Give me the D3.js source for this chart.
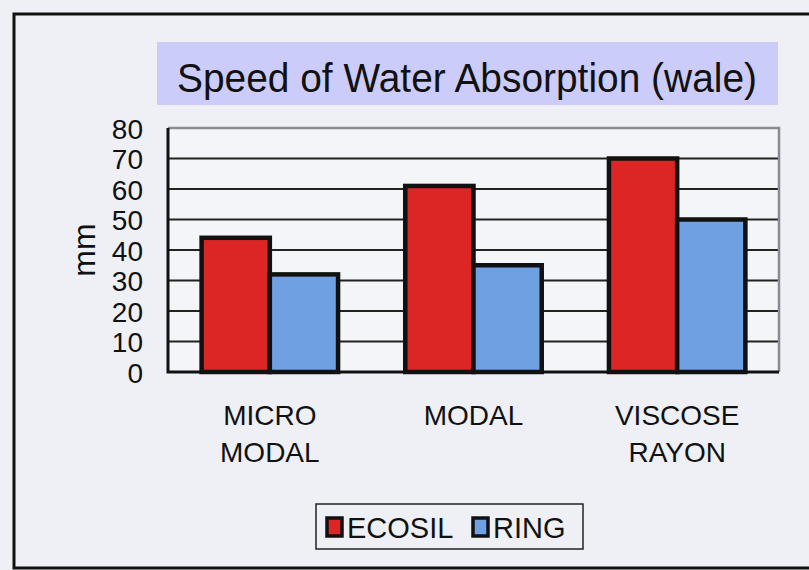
<!DOCTYPE html>
<html>
<head>
<meta charset="utf-8">
<script src="https://cdn.jsdelivr.net/npm/d3@7"></script>
<style>
	body { margin: 0; background: #eef0f6; }
	svg { display: block; }
	text { font-family: "Liberation Sans", Arial, sans-serif; fill: #111; }
</style>
</head>
<body>
<script>
// データ
var categories = [["MICRO", "MODAL"], ["MODAL"], ["VISCOSE", "RAYON"]];
var series_names = ["ECOSIL", "RING"];
var ecosil = [44, 61, 70];
var ring = [32, 35, 50];
var y_ticks = [0, 10, 20, 30, 40, 50, 60, 70, 80];
var colors = ["#dc2626", "#6fa0e2"];

var W = 809, H = 570;
var svg = d3.select("body").append("svg")
	.attr("width", W)
	.attr("height", H);

// 外枠(右側は画像外)
svg.append("path")
	.attr("d", "M" + W + ",14 H14 V568 H" + W)
	.attr("fill", "none")
	.attr("stroke", "#111")
	.attr("stroke-width", 3);

// タイトル
svg.append("rect")
	.attr("x", 157).attr("y", 42)
	.attr("width", 621).attr("height", 63)
	.attr("fill", "#ccccfb");
svg.append("text")
	.attr("x", 467).attr("y", 92)
	.attr("text-anchor", "middle")
	.attr("textLength", 580)
	.attr("lengthAdjust", "spacingAndGlyphs")
	.style("font-size", "41px")
	.text("Speed of Water Absorption (wale)");

// プロット領域
var plot = {left: 168, right: 779, top: 128, bottom: 372};
var x0 = d3.scaleBand()
	.domain(d3.range(categories.length))
	.range([plot.left, plot.right])
	.paddingInner(0.33)
	.paddingOuter(0.165);
var x1 = d3.scaleBand()
	.domain(series_names)
	.range([0, x0.bandwidth()]);
var y = d3.scaleLinear()
	.domain([0, 80])
	.range([plot.bottom, plot.top]);

svg.append("rect")
	.attr("x", plot.left).attr("y", plot.top)
	.attr("width", plot.right - plot.left).attr("height", plot.bottom - plot.top)
	.attr("fill", "#f4f5f9");

// グリッド線
svg.append("g")
	.selectAll("line")
	.data(y_ticks.filter(function(d){ return d > 0 && d < 80; }))
	.enter().append("line")
	.attr("x1", plot.left).attr("x2", plot.right)
	.attr("y1", function(d){ return y(d); })
	.attr("y2", function(d){ return y(d); })
	.attr("stroke", "#222")
	.attr("stroke-width", 2);

// 枠(上・右は灰色)
svg.append("path")
	.attr("d", "M" + plot.left + "," + plot.top + " H" + plot.right + " V" + plot.bottom)
	.attr("fill", "none").attr("stroke", "#8a8a90").attr("stroke-width", 2.5);
svg.append("path")
	.attr("d", "M" + plot.left + "," + plot.top + " V" + plot.bottom + " H" + plot.right)
	.attr("fill", "none").attr("stroke", "#111").attr("stroke-width", 3);

// Y軸ラベル
var yAxis = d3.axisLeft(y).tickValues(y_ticks).tickSize(0).tickPadding(0);
var yg = svg.append("g")
	.attr("transform", "translate(143,0)")
	.call(yAxis);
yg.select(".domain").remove();
yg.selectAll("text")
	.style("font-size", "28px")
	.attr("dy", "0.36em")
	.attr("fill", "#111");

svg.append("text")
	.attr("transform", "translate(95,250) rotate(-90)")
	.attr("text-anchor", "middle")
	.style("font-size", "32px")
	.text("mm");

// 棒
var rows = categories.map(function(c, i){
	return [{key: "ECOSIL", value: ecosil[i]}, {key: "RING", value: ring[i]}];
});
var groups = svg.append("g").selectAll("g")
	.data(rows)
	.enter().append("g")
	.attr("transform", function(d, i){ return "translate(" + x0(i) + ",0)"; });
groups.selectAll("rect")
	.data(function(d){ return d; })
	.enter().append("rect")
	.attr("x", function(d){ return x1(d.key); })
	.attr("y", function(d){ return y(d.value); })
	.attr("width", x1.bandwidth())
	.attr("height", function(d){ return y(0) - y(d.value); })
	.attr("fill", function(d, i){ return colors[i]; })
	.attr("stroke", "#111")
	.attr("stroke-width", 4.5);

// カテゴリラベル
var xl = svg.append("g").selectAll("text")
	.data(categories)
	.enter().append("text")
	.attr("x", function(d, i){ return x0(i) + x0.bandwidth() / 2; })
	.attr("y", 425)
	.attr("text-anchor", "middle")
	.style("font-size", "28px");
xl.selectAll("tspan")
	.data(function(d){ return d; })
	.enter().append("tspan")
	.attr("x", function(){ return d3.select(this.parentNode).attr("x"); })
	.attr("dy", function(d, i){ return i === 0 ? 0 : 37; })
	.text(function(d){ return d; });

// 凡例
svg.append("rect")
	.attr("x", 316).attr("y", 504)
	.attr("width", 267).attr("height", 45)
	.attr("fill", "none").attr("stroke", "#222").attr("stroke-width", 1.5);
var legend_x = [327, 473];
series_names.forEach(function(name, i){
	svg.append("rect")
		.attr("x", legend_x[i]).attr("y", 518)
		.attr("width", 15).attr("height", 18)
		.attr("fill", colors[i])
		.attr("stroke", "#111").attr("stroke-width", 3.5);
	svg.append("text")
		.attr("x", legend_x[i] + 20).attr("y", 538)
		.style("font-size", "29px")
		.text(name);
});
</script>
</body>
</html>
